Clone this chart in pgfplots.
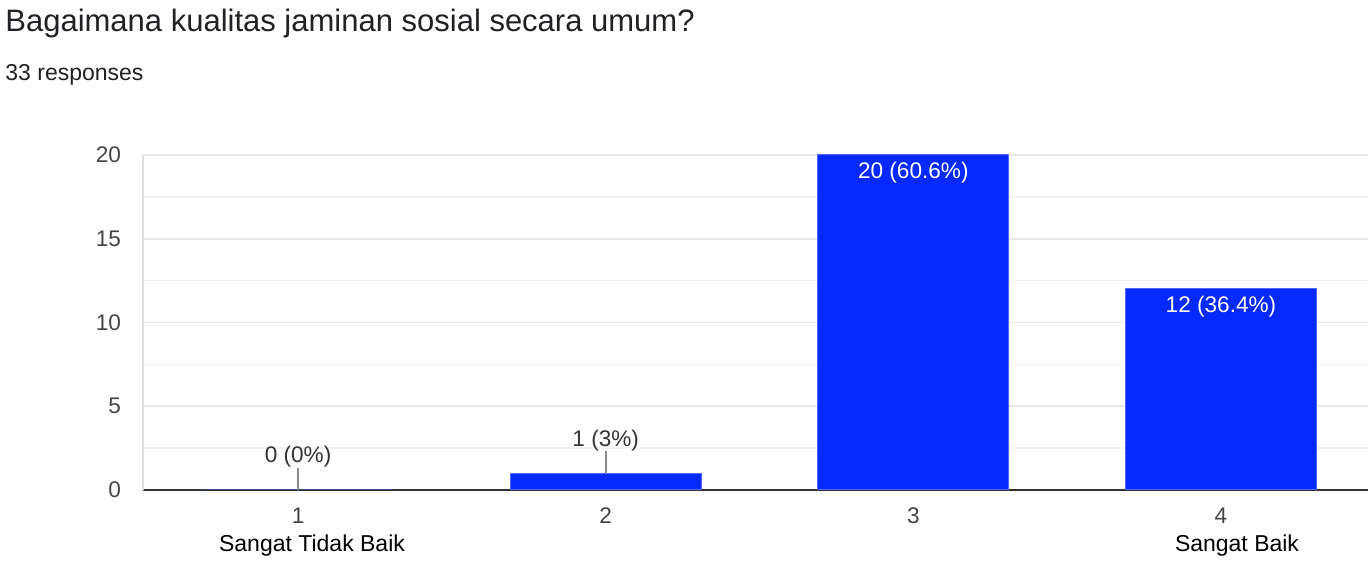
\documentclass[border=0pt]{standalone}
\usepackage{fontspec}
\setmainfont{Liberation Sans}
\usepackage{pgfplots}
\pgfplotsset{compat=1.18}
\definecolor{barblue}{HTML}{0529FF}
\definecolor{txt}{HTML}{202124}
\definecolor{ticktxt}{HTML}{444444}
\definecolor{axisdark}{HTML}{333333}
\begin{document}
\begin{tikzpicture}[x=0.5bp,y=0.5bp]
\useasboundingbox (0,0) rectangle (1368,562);
\node[anchor=base west, inner sep=0, text=txt, font=\fontsize{15.5bp}{18bp}\selectfont] at (5,530) {Bagaimana kualitas jaminan sosial secara umum?};
\node[anchor=base west, inner sep=0, text=txt, font=\fontsize{11.5bp}{14bp}\selectfont] at (5,481) {33 responses};
\begin{axis}[
  at={(71.5bp,36bp)}, anchor=south west,
  scale only axis, width=612.5bp, height=167.5bp,
  xmin=0.496, xmax=4.478, ymin=0, ymax=20,
  axis x line*=bottom, axis y line*=left,
  x axis line style={draw=axisdark, line width=1bp, -},
  y axis line style={draw=black!12, line width=0.8bp, -},
  xtick={1,2,3,4}, xticklabels={1,2,3,4},
  ytick={0,5,10,15,20},
  minor y tick num=1,
  major tick length=0pt, minor tick length=0pt,
  ymajorgrids, yminorgrids,
  major grid style={draw=black!9, line width=0.8bp},
  minor grid style={draw=black!5, line width=0.8bp},
  /pgf/number format/assume math mode=true,
  tick label style={font=\fontsize{11.3bp}{13bp}\selectfont, text=ticktxt},
  yticklabel style={xshift=-7.5bp},
  xticklabel style={yshift=-5.5bp},
  ybar, bar width=95.5bp, bar shift=0pt,
  point meta=explicit symbolic,
  clip=false,
]
\addplot[fill=barblue, draw=barblue!70!white, line width=0.5bp,
  nodes near coords,
  every node near coord/.append style={anchor=south, yshift=10bp, inner sep=1bp, text=axisdark, font=\fontsize{11.3bp}{13bp}\selectfont},
  error bars/.cd, y dir=plus, y explicit, error mark=none,
  error bar style={draw=black!45, line width=0.8bp}]
coordinates {(1,0) +- (0,1.313) [0 (0\%)] (2,1) +- (0,1.313) [1 (3\%)]};
\addplot[fill=barblue, draw=barblue!70!white, line width=0.5bp,
  nodes near coords,
  every node near coord/.append style={anchor=north, yshift=-2.5bp, inner sep=1bp, text=white, font=\fontsize{11.3bp}{13bp}\selectfont}]
coordinates {(3,20) [20 (60.6\%)] (4,12) [12 (36.4\%)]};
\end{axis}
\node[text=black, inner sep=0, font=\fontsize{11.5bp}{14bp}\selectfont] at (312,16) {Sangat Tidak Baik};
\node[text=black, inner sep=0, font=\fontsize{11.5bp}{14bp}\selectfont] at (1237,16) {Sangat Baik};
\end{tikzpicture}
\end{document}
